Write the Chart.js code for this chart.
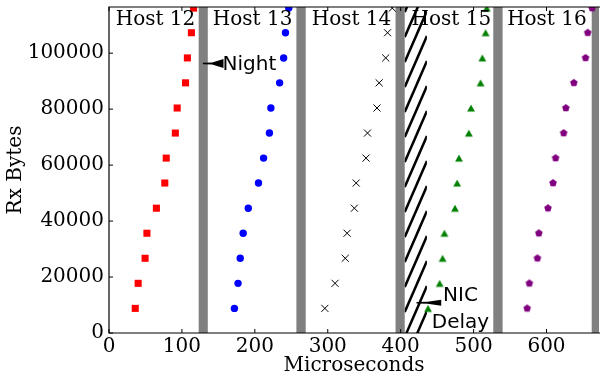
<!DOCTYPE html>
<html>
<head>
<meta charset="utf-8">
<script src="https://cdn.jsdelivr.net/npm/chart.js@4.4.0/dist/chart.umd.min.js"></script>
<style>
html, body { margin: 0; padding: 0; background: #fff; }
#wrap { width: 605px; height: 379px; }
</style>
</head>
<body>
<div id="wrap"><canvas id="rxChart" width="605" height="379"></canvas></div>
<script>
// values
var rxBytes = [8800, 17750, 26700, 35650, 44600, 53600, 62500, 71450, 80400, 89400, 98300, 107300, 116100];
var host12 = [36, 40, 49.5, 52, 65, 76.5, 78.5, 91, 93.5, 105, 107.5, 113, 116];
var host13 = [172, 177, 180, 184, 191, 205, 212, 220, 222, 234, 239.5, 242, 246.5];
var host14 = [296, 310, 324, 326.5, 336.5, 339, 352.5, 354.5, 367.5, 370.5, 379.5, 382, 388.5];
var host15 = [437.5, 453.5, 457.5, 460, 474.5, 477.5, 480, 493.5, 496.5, 509.5, 512, 516.5, 518];
var host16 = [573.5, 576.5, 587.5, 589.5, 602, 609, 612.5, 623.5, 626.5, 637.5, 653.5, 656.5, 662.5];
var hostNames = ['Host 12', 'Host 13', 'Host 14', 'Host 15', 'Host 16'];
var bandStart = [123, 257, 393, 527, 662];
var bandEnd = [135.5, 269.8, 405.6, 539.8, 675];
var hatchRange = [405.6, 436];
var xTicks = [0, 100, 200, 300, 400, 500, 600];
var yTicks = [0, 20000, 40000, 60000, 80000, 100000];

function pts(xs) {
    return xs.map(function (x, i) { return { x: x, y: rxBytes[i] }; });
}

// matplotlib style markers that chart.js does not have
function makeMarker(color, poly) {
    var c = document.createElement('canvas');
    c.width = 12; c.height = 12;
    var g = c.getContext('2d');
    g.fillStyle = color;
    g.beginPath();
    poly.forEach(function (p, i) {
        if (i === 0) g.moveTo(6 + p[0], 6 + p[1]); else g.lineTo(6 + p[0], 6 + p[1]);
    });
    g.closePath();
    g.fill();
    return c;
}
var pent = [];
for (var k = 0; k < 5; k++) {
    var ang = -Math.PI / 2 + k * 2 * Math.PI / 5;
    pent.push([4 * Math.cos(ang), 4 * Math.sin(ang)]);
}
var pentMarker = makeMarker('#800080', pent);
var triMarker = makeMarker('#008000', [[0, -3.5], [-3.9, 3.4], [3.9, 3.4]]);

var serif = '"DejaVu Serif", serif';
var sans = '"DejaVu Sans", sans-serif';

// thin wedge, narrow at the tip, wide at the text
function wedge(ctx, tx, ty, bx, half) {
    ctx.beginPath();
    ctx.moveTo(tx, ty - 0.7);
    ctx.lineTo(tx + (bx - tx) * 0.45, ty - 1);
    ctx.lineTo(bx, ty - half);
    ctx.lineTo(bx, ty + half);
    ctx.lineTo(tx + (bx - tx) * 0.45, ty + 1);
    ctx.lineTo(tx, ty + 0.7);
    ctx.closePath();
    ctx.fill();
}

var decorPlugin = {
    id: 'decor',
    beforeDatasetsDraw: function (chart) {
        var ctx = chart.ctx, a = chart.chartArea, xs = chart.scales.x;
        ctx.save();
        ctx.beginPath();
        ctx.rect(a.left, a.top, a.right - a.left, a.bottom - a.top);
        ctx.clip();
        ctx.fillStyle = '#808080';
        for (var i = 0; i < bandStart.length; i++) {
            var x0 = xs.getPixelForValue(bandStart[i]);
            var x1 = xs.getPixelForValue(bandEnd[i]);
            ctx.fillRect(x0, a.top, x1 - x0, a.bottom - a.top);
        }
        // hatched NIC region
        var h0 = xs.getPixelForValue(hatchRange[0]);
        var h1 = xs.getPixelForValue(hatchRange[1]);
        ctx.beginPath();
        ctx.rect(h0, a.top, h1 - h0, a.bottom - a.top);
        ctx.clip();
        ctx.fillStyle = '#fff';
        ctx.fillRect(h0, a.top, h1 - h0, a.bottom - a.top);
        ctx.strokeStyle = '#000';
        ctx.lineWidth = 2.5;
        var rise = (h1 - h0) * 2.3;
        for (var y = a.top - 20; y < a.bottom + rise + 20; y += 25) {
            ctx.beginPath();
            ctx.moveTo(h0, y);
            ctx.lineTo(h1, y - rise);
            ctx.stroke();
        }
        ctx.restore();
    },
    afterDatasetsDraw: function (chart) {
        var ctx = chart.ctx, a = chart.chartArea, xs = chart.scales.x, ys = chart.scales.y;
        ctx.save();
        ctx.fillStyle = '#000';
        ctx.textBaseline = 'alphabetic';

        // host names
        ctx.font = '20px ' + serif;
        ctx.textAlign = 'left';
        var labelX = [9.2, 142.4, 278, 415, 546];
        for (var i = 0; i < hostNames.length; i++) {
            ctx.fillText(hostNames[i], xs.getPixelForValue(labelX[i]), ys.getPixelForValue(110100));
        }

        // annotations
        ctx.font = '20px ' + sans;
        ctx.fillText('Night', xs.getPixelForValue(155.7), ys.getPixelForValue(94000));
        wedge(ctx, xs.getPixelForValue(128.8), ys.getPixelForValue(96300), xs.getPixelForValue(157), 4.5);
        ctx.textAlign = 'center';
        ctx.fillText('NIC', xs.getPixelForValue(482), ys.getPixelForValue(11300));
        ctx.fillText('Delay', xs.getPixelForValue(482), ys.getPixelForValue(1800));
        wedge(ctx, xs.getPixelForValue(421.7), ys.getPixelForValue(10830), xs.getPixelForValue(455.6), 3);

        // spines
        ctx.strokeStyle = '#000';
        ctx.lineWidth = 1.2;
        ctx.beginPath();
        ctx.moveTo(a.right + 1, a.top);
        ctx.lineTo(a.left, a.top);
        ctx.lineTo(a.left, a.bottom);
        ctx.lineTo(a.right + 1, a.bottom);
        ctx.stroke();

        // inward ticks
        ctx.lineWidth = 1;
        ctx.beginPath();
        yTicks.forEach(function (v) {
            var py = ys.getPixelForValue(v);
            ctx.moveTo(a.left, py);
            ctx.lineTo(a.left + 4, py);
        });
        xTicks.forEach(function (v) {
            var px = xs.getPixelForValue(v);
            ctx.moveTo(px, a.bottom);
            ctx.lineTo(px, a.bottom - 4);
            ctx.moveTo(px, a.top);
            ctx.lineTo(px, a.top + 4);
        });
        ctx.stroke();
        ctx.restore();
    }
};

Chart.defaults.color = '#000';

var ctx = document.getElementById('rxChart').getContext('2d');
var rxChart = new Chart(ctx, {
    type: 'scatter',
    data: {
        datasets: [
            { label: 'Host 12', data: pts(host12), pointStyle: 'rect', pointRadius: 5, backgroundColor: '#ff0000', borderWidth: 0 },
            { label: 'Host 13', data: pts(host13), pointStyle: 'circle', pointRadius: 3.7, backgroundColor: '#0000ff', borderWidth: 0 },
            { label: 'Host 14', data: pts(host14), pointStyle: 'crossRot', pointRadius: 5, borderColor: '#000', borderWidth: 1 },
            { label: 'Host 15', data: pts(host15), pointStyle: triMarker },
            { label: 'Host 16', data: pts(host16), pointStyle: pentMarker }
        ]
    },
    options: {
        responsive: false,
        animation: false,
        layout: { padding: { top: 7, right: 0, bottom: 0, left: 0 } },
        plugins: { legend: { display: false }, tooltip: { enabled: false } },
        scales: {
            x: {
                type: 'linear',
                min: 0,
                max: 672,
                grid: { display: false, drawTicks: false },
                border: { display: false },
                afterBuildTicks: function (s) {
                    s.ticks = xTicks.map(function (v) { return { value: v }; });
                },
                afterFit: function (s) {
                    s.height = 46;
                    s.paddingLeft = 0; s.paddingRight = 0;
                },
                ticks: {
                    autoSkip: false,
                    maxRotation: 0,
                    padding: 2,
                    font: { family: serif, size: 20 },
                    callback: function (v) { return String(v); }
                },
                title: {
                    display: true,
                    text: 'Microseconds',
                    font: { family: serif, size: 20 },
                    padding: { top: 0, bottom: 1.5 }
                }
            },
            y: {
                type: 'linear',
                min: 0,
                max: 116500,
                grid: { display: false, drawTicks: false },
                border: { display: false },
                afterBuildTicks: function (s) {
                    s.ticks = yTicks.map(function (v) { return { value: v }; });
                },
                afterFit: function (s) {
                    s.width = 109;
                    s.paddingTop = 0; s.paddingBottom = 0;
                },
                ticks: {
                    padding: 5,
                    font: { family: serif, size: 20 },
                    callback: function (v) { return String(v); }
                },
                title: {
                    display: true,
                    text: 'Rx Bytes',
                    font: { family: serif, size: 20 },
                    padding: { top: 4, bottom: 0 }
                }
            }
        }
    },
    plugins: [decorPlugin]
});
</script>
</body>
</html>
